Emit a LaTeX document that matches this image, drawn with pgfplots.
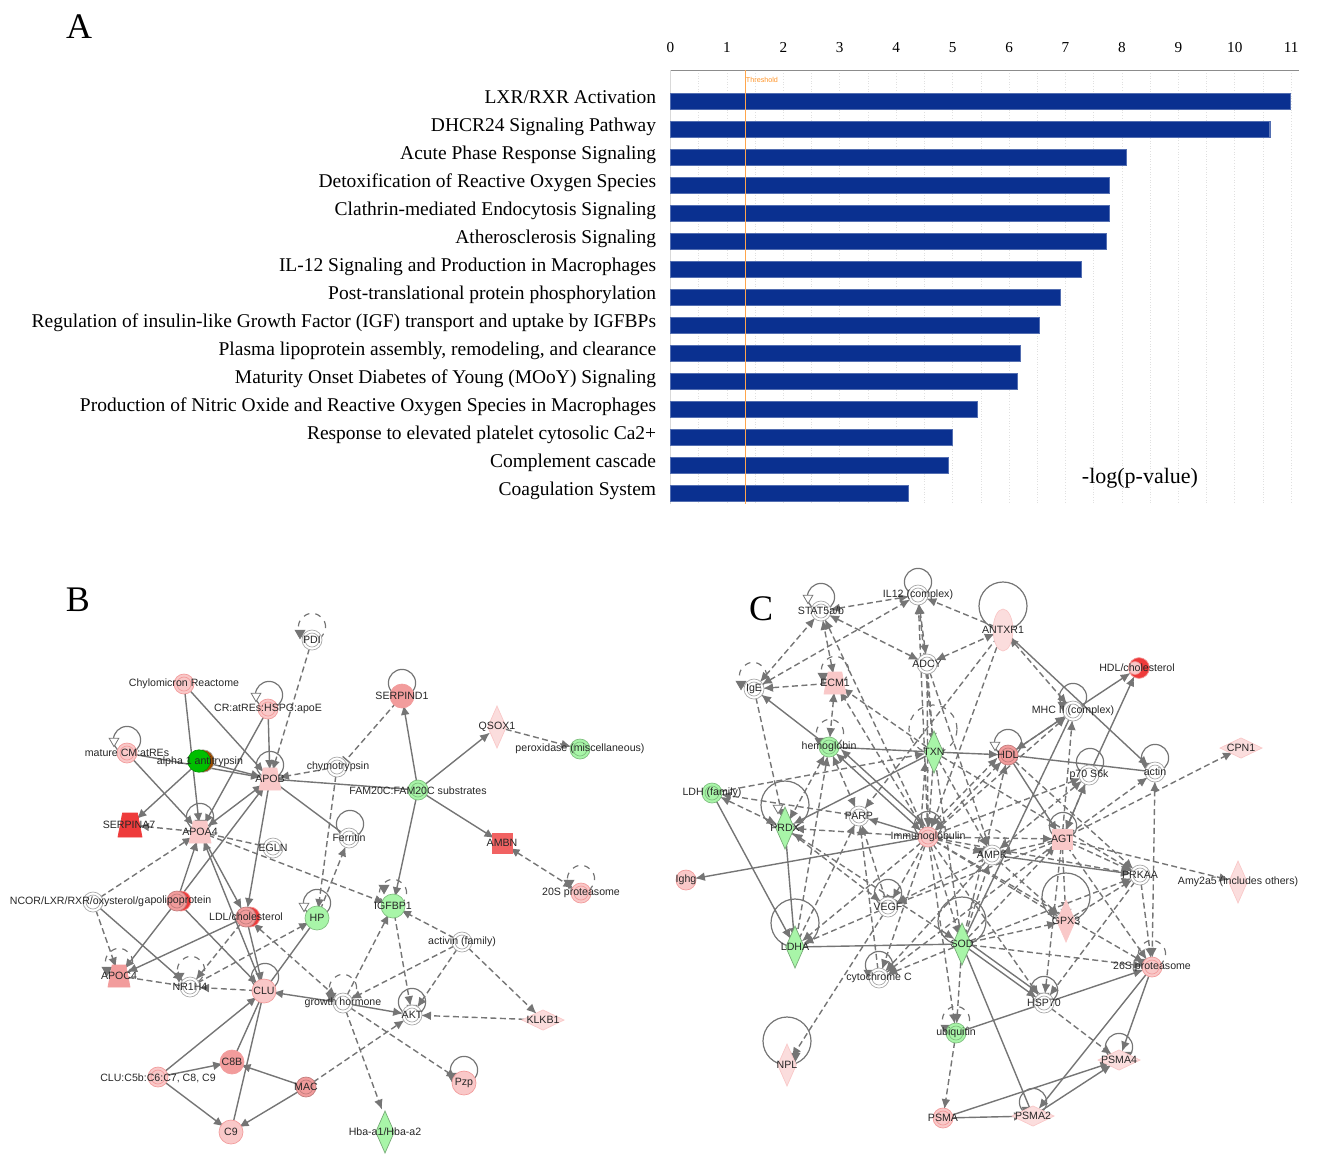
\documentclass[border=0pt]{standalone}
\usepackage{fontspec}
\setmainfont{Liberation Serif}
\newfontfamily\netfont{Liberation Sans}
\usepackage{pgfplots}
\pgfplotsset{compat=1.18}
\usetikzlibrary{arrows.meta,plotmarks}

\definecolor{edgegray}{HTML}{757575}
\definecolor{barblue}{HTML}{0A3090}
\definecolor{palepink}{HTML}{FBDDDD}
\definecolor{midpink}{HTML}{F9C8C8}
\definecolor{redpink}{HTML}{F29C9C}
\definecolor{strongred}{HTML}{EE3B3B}
\definecolor{palegreen}{HTML}{A8F5A8}
\definecolor{ringgray}{HTML}{A8A8A8}

\pgfdeclareplotmark{tdiam}{%
  \pgfpathmoveto{\pgfqpoint{0pt}{\pgfplotmarksize}}%
  \pgfpathlineto{\pgfqpoint{0.44\pgfplotmarksize}{0pt}}%
  \pgfpathlineto{\pgfqpoint{0pt}{-\pgfplotmarksize}}%
  \pgfpathlineto{\pgfqpoint{-0.44\pgfplotmarksize}{0pt}}%
  \pgfpathclose\pgfusepathqfillstroke}
\pgfdeclareplotmark{wdiam}{%
  \pgfpathmoveto{\pgfqpoint{\pgfplotmarksize}{0pt}}%
  \pgfpathlineto{\pgfqpoint{0pt}{0.48\pgfplotmarksize}}%
  \pgfpathlineto{\pgfqpoint{-\pgfplotmarksize}{0pt}}%
  \pgfpathlineto{\pgfqpoint{0pt}{-0.48\pgfplotmarksize}}%
  \pgfpathclose\pgfusepathqfillstroke}
\pgfdeclareplotmark{talloval}{%
  \pgfpathellipse{\pgfpointorigin}{\pgfqpoint{0.47\pgfplotmarksize}{0pt}}{\pgfqpoint{0pt}{\pgfplotmarksize}}%
  \pgfusepathqfillstroke}
\pgfdeclareplotmark{trapz}{%
  \pgfpathmoveto{\pgfqpoint{-0.62\pgfplotmarksize}{\pgfplotmarksize}}%
  \pgfpathlineto{\pgfqpoint{0.62\pgfplotmarksize}{\pgfplotmarksize}}%
  \pgfpathlineto{\pgfqpoint{\pgfplotmarksize}{-\pgfplotmarksize}}%
  \pgfpathlineto{\pgfqpoint{-\pgfplotmarksize}{-\pgfplotmarksize}}%
  \pgfpathclose\pgfusepathqfillstroke}

\tikzset{
  sedge/.style={draw=edgegray, line width=0.7pt, shorten >=4.5pt, shorten <=4.5pt},
  dedge/.style={sedge, dash pattern=on 3pt off 1.7pt},
  oneway/.style={-{Latex[length=5pt,width=4.4pt]}},
  twoway/.style={{Latex[length=5pt,width=4.4pt]}-{Latex[length=5pt,width=4.4pt]}},
}
\newcommand{\Sa}[4]{\addplot[sedge,oneway] coordinates {(#1,#2)(#3,#4)};}
\newcommand{\Sb}[4]{\addplot[sedge,twoway] coordinates {(#1,#2)(#3,#4)};}
\newcommand{\Sl}[4]{\addplot[sedge] coordinates {(#1,#2)(#3,#4)};}
\newcommand{\Da}[4]{\addplot[dedge,oneway] coordinates {(#1,#2)(#3,#4)};}
\newcommand{\Db}[4]{\addplot[dedge,twoway] coordinates {(#1,#2)(#3,#4)};}
\newcommand{\Dl}[4]{\addplot[dedge] coordinates {(#1,#2)(#3,#4)};}
% self loops: mark size, dashed or solid, centres
\newcommand{\selfloops}[3]{\addplot[only marks, mark=o, mark size=#1, mark options={draw=edgegray, line width=0.6pt, #2}] coordinates {#3};}
% filled nodes
\newcommand{\netnodes}[5]{\addplot[only marks, mark=#1, mark size=#2, mark options={fill=#3, draw=#4, line width=0.35pt}] coordinates {#5};}
% circle with a second ring inside, the way IPA draws groups
\newcommand{\rings}[3]{\netnodes{*}{5pt}{#1}{#2}{#3}\netnodes{*}{3.5pt}{#1}{#2}{#3}}

\begin{document}
\begin{tikzpicture}
\useasboundingbox (0,0) rectangle (662.5pt,579pt);

% panels B and C, in picture pixels
\begin{axis}[
  at={(0,0)}, anchor=south west,
  scale only axis, width=662.5pt, height=579pt,
  xmin=0, xmax=1325, ymin=0, ymax=1158, y dir=reverse,
  axis lines=none, clip=false,
]
% ---- loops
\selfloops{6.8pt}{solid}{(269,695)(127,740)(270,765)(200,817)(350,824)(402,683)(317,903)(265,977)(412,1002)(464,1070)}
\selfloops{6.8pt}{dashed}{(312,627)(393,893)(581,879)(119,962)(191,970)(343,988)}
\selfloops{6.8pt}{solid}{(821,597)(918,582)(1073,697)(1008,743)(1090,762)(1155,758)(928,825)(1063,826)(888,893)(879,965)(1044,990)(1119,1047)(1033,1102)}
\selfloops{6.8pt}{dashed}{(753,676)(835,670)(830,733)(992,843)(1152,954)(956,1020)}
\selfloops{12pt}{solid}{(1003,606)(785,805)(795,923)(962,921)(1066,897)(787,1041)}
\selfloops{12pt}{dashed}{(933,729)}

% ---- panel B edges
\Sa{184}{684}{200}{832}
\Sa{184}{684}{270}{779}
\Sa{268}{709}{200}{832}
\Sa{268}{709}{270}{779}
\Sa{127}{753}{270}{779}
\Sa{127}{753}{200}{832}
\Sa{200}{761}{270}{779}
\Sa{200}{761}{130}{825}
\Sb{200}{832}{270}{779}
\Sl{270}{779}{349}{838}
\Sl{418}{790}{270}{779}
\Sa{418}{790}{402}{696}
\Sa{418}{790}{497}{727}
\Sa{418}{790}{502}{843}
\Sa{418}{790}{393}{906}
\Da{497}{727}{580}{749}
\Db{502}{843}{581}{893}
\Da{312}{640}{270}{779}
\Da{337}{767}{270}{779}
\addplot[dedge,-{Bar[width=5pt]}] coordinates {(402,696)(340,767)};
\Da{337}{767}{317}{918}
\Da{317}{918}{349}{838}
\Dl{200}{832}{273}{848}
\Da{200}{832}{393}{906}
\Da{200}{832}{130}{825}
\Da{93}{902}{200}{832}
\Da{93}{902}{119}{976}
\Sa{93}{902}{190}{987}
\Sa{177}{901}{200}{832}
\Sa{177}{901}{270}{779}
\Sa{177}{901}{119}{976}
\Sa{177}{901}{264}{991}
\Sa{264}{991}{200}{832}
\Sa{200}{832}{246}{917}
\Sa{270}{779}{246}{917}
\Sa{246}{917}{264}{991}
\Sa{246}{917}{119}{976}
\Da{246}{917}{190}{987}
\Db{246}{917}{343}{1003}
\Sl{317}{918}{264}{991}
\Da{190}{987}{317}{918}
\Dl{119}{976}{190}{987}
\Da{264}{991}{190}{987}
\Sa{343}{1003}{264}{991}
\Sa{158}{1077}{264}{991}
\Sa{158}{1077}{232}{1062}
\Sa{158}{1077}{231}{1132}
\Sl{264}{991}{232}{1062}
\Sl{264}{991}{231}{1132}
\Sa{306}{1087}{232}{1062}
\Sa{306}{1087}{231}{1132}
\Da{306}{1087}{412}{1015}
\Sa{343}{1003}{412}{1015}
\Da{343}{1003}{464}{1083}
\Da{343}{1003}{385}{1118}
\Da{343}{1003}{393}{906}
\Da{462}{942}{343}{1003}
\Da{462}{942}{393}{906}
\Da{462}{942}{412}{1015}
\Da{462}{942}{543}{1020}
\Da{543}{1020}{412}{1015}
\Da{393}{906}{412}{1015}

% ---- panel C edges, dashed
\Db{821}{611}{918}{595}
\Db{754}{689}{821}{611}
\Db{754}{689}{918}{595}
\Da{835}{683}{754}{689}
\Db{835}{683}{821}{611}
\Db{927}{664}{821}{611}
\Db{927}{664}{918}{595}
\Da{928}{837}{821}{611}
\Da{928}{837}{918}{595}
\Da{934}{752}{918}{595}
\Da{1003}{630}{918}{595}
\Db{927}{664}{1003}{630}
\Db{1003}{630}{1073}{711}
\Db{835}{683}{829}{747}
\Da{928}{837}{835}{683}
\Da{934}{752}{835}{683}
\Da{754}{689}{785}{828}
\Db{829}{747}{785}{828}
\Da{712}{793}{934}{752}
\Da{859}{816}{712}{793}
\Db{785}{828}{712}{793}
\Db{829}{747}{859}{816}
\Da{928}{837}{785}{828}
\Db{785}{828}{962}{944}
\Da{785}{828}{888}{907}
\Da{927}{664}{934}{752}
\Da{927}{664}{928}{837}
\Da{927}{664}{992}{855}
\Da{934}{752}{928}{837}
\Da{920}{837}{926}{752}
\Da{934}{752}{962}{944}
\Da{934}{752}{992}{855}
\Da{934}{752}{1140}{875}
\Da{1003}{630}{928}{837}
\Da{1003}{630}{859}{816}
\Db{928}{837}{1008}{755}
\Db{924}{833}{1004}{751}
\Db{928}{837}{1073}{711}
\Da{928}{837}{1089}{775}
\Da{928}{837}{1062}{839}
\Da{928}{837}{992}{855}
\Da{928}{837}{1140}{875}
\Da{928}{837}{888}{907}
\Da{928}{837}{962}{944}
\Da{928}{837}{879}{978}
\Da{928}{837}{1044}{1003}
\Da{928}{837}{1066}{921}
\Da{928}{837}{1152}{967}
\Da{928}{837}{795}{947}
\Da{879}{978}{859}{816}
\Da{888}{907}{859}{816}
\Da{795}{947}{859}{816}
\Da{888}{907}{787}{1065}
\Da{888}{907}{795}{947}
\Da{992}{855}{888}{907}
\Da{1062}{839}{888}{907}
\Da{962}{944}{879}{978}
\Da{992}{855}{879}{978}
\Da{1062}{839}{879}{978}
\Da{962}{944}{1008}{755}
\Da{962}{944}{1062}{839}
\Da{962}{944}{992}{855}
\Da{962}{944}{1140}{875}
\Da{962}{944}{1066}{921}
\Da{962}{944}{1152}{967}
\Da{962}{944}{956}{1033}
\Da{928}{837}{956}{1033}
\Db{1062}{839}{1089}{775}
\Da{1062}{839}{1073}{711}
\Da{1062}{839}{1155}{772}
\Da{1062}{839}{1241}{748}
\Da{1062}{839}{1238}{882}
\Da{1062}{839}{1140}{875}
\Da{1062}{839}{1066}{921}
\Da{1062}{839}{1044}{1003}
\Da{1062}{839}{1152}{967}
\Da{1062}{839}{992}{855}
\Da{1008}{755}{1140}{875}
\Da{992}{855}{1066}{921}
\Da{1140}{875}{1044}{1003}
\Da{1140}{875}{1152}{967}
\Da{1066}{921}{1140}{875}
\Db{1155}{772}{1152}{967}
\Db{1008}{755}{1073}{711}
\Db{1089}{775}{992}{855}
\Da{1044}{1003}{1119}{1060}
\Da{956}{1033}{943}{1118}
\Da{795}{947}{829}{747}

% ---- panel C edges, solid
\Sl{829}{747}{934}{752}
\Sa{934}{752}{1008}{755}
\Sa{829}{747}{754}{689}
\Sa{934}{752}{785}{828}
\Sb{829}{747}{928}{837}
\Sb{834}{743}{933}{833}
\Sa{928}{837}{859}{816}
\Sa{928}{837}{686}{880}
\Sa{712}{793}{795}{947}
\Sa{785}{828}{795}{947}
\Sl{795}{947}{962}{944}
\Sa{1003}{630}{1155}{772}
\Sl{1008}{755}{1155}{772}
\Sa{1073}{711}{1138}{668}
\Sa{1089}{775}{1138}{668}
\Sa{1008}{755}{1073}{711}
\Sb{1089}{775}{1062}{839}
\Sa{1008}{755}{1062}{839}
\Sl{962}{944}{1073}{711}
\Sa{962}{944}{1044}{1003}
\Sa{965}{940}{1047}{999}
\Sl{962}{944}{1033}{1116}
\Sa{956}{1033}{1152}{967}
\Sa{992}{855}{1140}{875}
\Sa{943}{1118}{1119}{1060}
\Sa{943}{1118}{1033}{1116}
\Sa{1033}{1116}{1119}{1060}
\Sa{1152}{967}{1033}{1116}
\Sa{1152}{967}{1119}{1060}

% ---- loop arrowheads
\addplot[only marks, mark=triangle*, mark size=2.8pt, mark options={rotate=180, fill=edgegray, draw=edgegray}] coordinates {
  (300,633)(384,888)(569,883)(107,970)(179,976)(331,996)(200,823)(270,771)(412,1008)(452,1076)(265,983)
  (741,684)(823,676)(820,741)(982,851)(1142,962)(946,1028)(918,590)(1063,705)(1090,770)(1147,766)(928,831)
  (1063,832)(888,899)(869,973)(1044,996)(1127,1055)(1027,1110)(795,938)(962,936)(1066,912)(795,1056)};
\addplot[only marks, mark=triangle*, mark size=2.8pt, mark options={rotate=180, fill=white, draw=edgegray}] coordinates {
  (256,696)(114,741)(304,906)(808,598)(995,745)(778,808)};

% ---- panel B nodes
\netnodes{*}{5pt}{strongred}{redpink}{(250,917)(181,901)}
\netnodes{*}{5.6pt}{orange!60!black}{ringgray}{(203,761)}
\netnodes{*}{5.6pt}{green!75!black}{green!60!black}{(199,761)}
\rings{white}{ringgray}{(312,640)(337,767)(273,848)(349,838)(93,902)(190,987)(343,1003)(412,1015)(462,942)}
\rings{midpink}{redpink}{(184,684)(268,709)(127,753)(581,893)(158,1077)}
\rings{redpink}{redpink!80!black}{(177,901)(246,917)(306,1087)}
\rings{palegreen}{green!50!black!50}{(580,749)(418,790)}
\netnodes{*}{6pt}{redpink}{redpink}{(402,696)(232,1062)}
\netnodes{*}{6pt}{midpink}{redpink}{(264,991)(231,1132)(464,1083)}
\netnodes{*}{6pt}{palegreen}{green!50!black!50}{(393,906)(317,918)}
\netnodes{trapz}{5.5pt}{midpink}{midpink}{(270,779)(200,832)}
\netnodes{trapz}{6pt}{strongred}{strongred}{(130,825)}
\netnodes{trapz}{5.5pt}{redpink}{redpink}{(119,976)}
\netnodes{square*}{5pt}{strongred!80}{strongred!80}{(502,843)}
\netnodes{tdiam}{10.5pt}{palepink}{midpink}{(497,727)}
\netnodes{tdiam}{10.5pt}{palegreen}{palegreen!70!black}{(385,1132)}
\netnodes{wdiam}{10.5pt}{palepink}{midpink}{(543,1020)}

% ---- panel C nodes
\netnodes{*}{5.2pt}{strongred}{redpink}{(1139,668)}
\netnodes{*}{3.2pt}{midpink}{redpink}{(1135,668)}
\rings{white}{ringgray}{(821,611)(918,595)(927,664)(754,689)(1073,711)(1089,775)(1155,772)(859,816)(992,855)(1140,875)(888,907)(879,978)(1044,1003)}
\rings{palegreen}{green!50!black!50}{(829,747)(712,793)(956,1033)}
\rings{midpink}{redpink}{(928,837)(1152,967)(943,1118)}
\rings{redpink}{redpink!80!black}{(1008,755)}
\netnodes{*}{5pt}{midpink}{redpink}{(686,880)}
\netnodes{talloval}{10.5pt}{palepink}{midpink}{(1003,630)}
\netnodes{trapz}{5.5pt}{midpink}{midpink}{(835,683)}
\netnodes{square*}{5pt}{midpink}{midpink}{(1062,839)}
\netnodes{tdiam}{10.5pt}{palegreen}{palegreen!70!black}{(934,752)(785,828)(795,947)(962,944)}
\netnodes{tdiam}{10.5pt}{midpink}{midpink}{(1066,921)}
\netnodes{tdiam}{10.5pt}{palepink}{midpink}{(787,1065)(1238,882)}
\netnodes{wdiam}{10.5pt}{palepink}{midpink}{(1241,748)(1119,1060)(1033,1116)}

% ---- node names
\addplot[only marks, mark=none, point meta=explicit symbolic, nodes near coords,
  nodes near coords style={anchor=center, inner sep=0pt, font=\netfont\fontsize{5.3pt}{6pt}\selectfont, text=black!85}]
  table[col sep=comma, meta=label] {
x,y,label
312,640,PDI
184,684,Chylomicron Reactome
268,709,CR:atREs:HSPG:apoE
127,753,mature CM:atREs
200,762,alpha 1 antitrypsin
270,779,APOB
338,767,chymotrypsin
129,825,SERPINA7
200,832,APOA4
273,848,EGLN
349,838,Ferritin
402,696,SERPIND1
497,727,QSOX1
580,749,peroxidase (miscellaneous)
418,791,FAM20C:FAM20C substrates
502,843,AMBN
581,893,20S proteasome
393,906,IGFBP1
77,902,NCOR/LXR/RXR/oxysterol/g
178,901,apolipoprotein
246,917,LDL/cholesterol
317,918,HP
119,976,APOC4
190,987,NR1H4
264,991,CLU
343,1003,growth hormone
412,1015,AKT
462,942,activin (family)
543,1020,KLKB1
232,1062,C8B
158,1078,{CLU:C5b:C6:C7, C8, C9}
306,1087,MAC
231,1132,C9
464,1083,Pzp
385,1132,Hba-a1/Hba-a2
821,611,STAT5a/b
918,595,IL12 (complex)
1003,630,ANTXR1
927,664,ADCY
754,689,IgE
835,683,ECM1
1137,668,HDL/cholesterol
1073,711,MHC II (complex)
829,747,hemoglobin
934,752,TXN
1008,755,HDL
1089,775,p70 S6k
1155,772,actin
1241,748,CPN1
712,793,LDH (family)
785,828,PRDX
859,816,PARP
928,837,Immunoglobulin
992,855,AMPK
1062,839,AGT
1140,875,PRKAA
1238,882,Amy2a5 (includes others)
686,880,Ighg
888,907,VEGF
795,947,LDHA
962,944,SOD
1066,921,GPX3
879,978,cytochrome C
1152,967,26S proteasome
1044,1003,HSP70
956,1033,ubiquitin
787,1065,NPL
1119,1060,PSMA4
943,1118,PSMA
1033,1116,PSMA2
};

\node[font=\fontsize{18pt}{20pt}\selectfont, anchor=center] at (axis cs:79,27) {A};
\node[font=\fontsize{18pt}{20pt}\selectfont, anchor=center] at (axis cs:78,600) {B};
\node[font=\fontsize{18pt}{20pt}\selectfont, anchor=center] at (axis cs:761,609) {C};
\end{axis}

% panel A
\begin{axis}[
  at={(335.25pt,327pt)}, anchor=south west,
  scale only axis, width=314pt, height=216.75pt,
  xmin=0, xmax=11.13, ymin=-0.09, ymax=15.39, y dir=reverse,
  axis x line*=top, axis y line*=left,
  x axis line style={draw=black!45, line width=0.8pt, -},
  y axis line style={draw=black!15, line width=0.6pt, -},
  xtick={0,...,11}, minor x tick num=1,
  xmajorgrids, xminorgrids,
  grid style={densely dotted, draw=black!12, line width=0.3pt},
  minor grid style={densely dotted, draw=black!12, line width=0.3pt},
  major tick length=0pt, minor tick length=0pt,
  xticklabel style={font=\fontsize{7.6pt}{9pt}\selectfont, yshift=5.5pt, /pgf/number format/assume math mode=true},
  ytick={1,...,15},
  yticklabels={LXR/RXR Activation, DHCR24 Signaling Pathway, Acute Phase Response Signaling,
    Detoxification of Reactive Oxygen Species, Clathrin-mediated Endocytosis Signaling,
    Atherosclerosis Signaling, IL-12 Signaling and Production in Macrophages,
    Post-translational protein phosphorylation,
    Regulation of insulin-like Growth Factor (IGF) transport and uptake by IGFBPs,
    {Plasma lipoprotein assembly, remodeling, and clearance},
    Maturity Onset Diabetes of Young (MOoY) Signaling,
    Production of Nitric Oxide and Reactive Oxygen Species in Macrophages,
    Response to elevated platelet cytosolic Ca2+, Complement cascade, Coagulation System},
  yticklabel style={font=\fontsize{9.74pt}{11pt}\selectfont, inner sep=0pt, anchor=base east, xshift=-7pt, yshift=-1.2pt},
  clip=false,
]
\addplot[xbar, bar shift=0pt, bar width=8pt, fill=barblue, draw=barblue!70!white, line width=0.2pt] coordinates {
  (10.99,1) (10.62,2) (8.08,3) (7.78,4) (7.77,5) (7.72,6) (7.28,7) (6.91,8)
  (6.54,9) (6.2,10) (6.14,11) (5.43,12) (5.0,13) (4.93,14) (4.22,15)};
\addplot[draw=orange!70, line width=0.3pt] coordinates {(1.32,-0.09) (1.32,15.39)};
\node[font=\netfont\fontsize{3.6pt}{4pt}\selectfont, text=orange!85, anchor=west, inner sep=0pt] at (axis cs:1.33,0.25) {Threshold};
\node[font=\fontsize{11pt}{12pt}\selectfont, anchor=center, inner sep=0pt] at (axis cs:8.32,14.46) {-log(p-value)};
\end{axis}
\end{tikzpicture}
\end{document}
